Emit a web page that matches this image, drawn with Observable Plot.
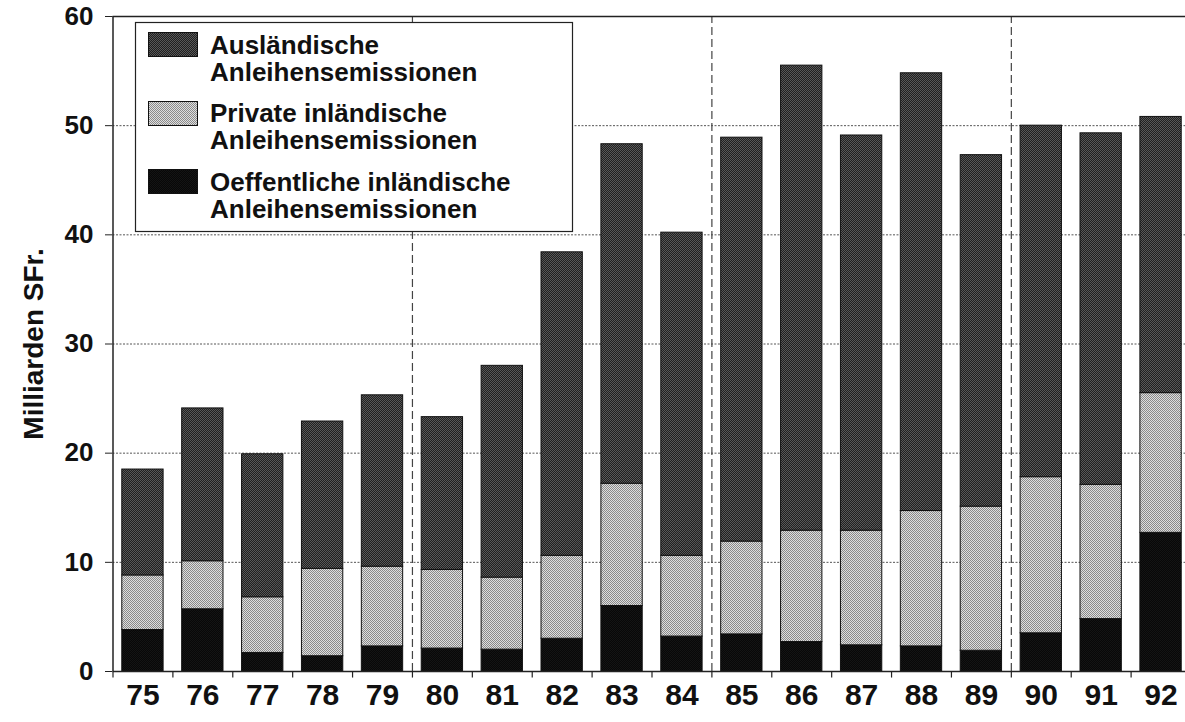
<!DOCTYPE html>
<html>
<head>
<meta charset="utf-8">
<script src="https://cdn.jsdelivr.net/npm/d3@7"></script>
<script src="https://cdn.jsdelivr.net/npm/@observablehq/plot@0.6"></script>
<style>
  html, body { margin: 0; padding: 0; background: #fff; }
  #chart { width: 1185px; height: 722px; overflow: hidden; }
  svg { font-family: "Liberation Sans", Arial, sans-serif; }
</style>
</head>
<body>
<div id="chart"></div>
<script>
// ---- data (Milliarden SFr.) ----
const years = [75, 76, 77, 78, 79, 80, 81, 82, 83, 84, 85, 86, 87, 88, 89, 90, 91, 92];
const oeffentlich = [3.8, 5.7, 1.7, 1.4, 2.3, 2.1, 2.0, 3.0, 6.0, 3.2, 3.4, 2.7, 2.4, 2.3, 1.9, 3.5, 4.8, 12.7];
const privat = [5.0, 4.4, 5.1, 8.0, 7.3, 7.2, 6.6, 7.6, 11.2, 7.4, 8.5, 10.2, 10.5, 12.4, 13.2, 14.3, 12.3, 12.8];
const auslaendisch = [9.7, 14.0, 13.1, 13.5, 15.7, 14.0, 19.4, 27.8, 31.1, 29.6, 37.0, 42.6, 36.2, 40.1, 32.2, 32.2, 32.2, 25.3];
const yTicks = [0, 10, 20, 30, 40, 50, 60];
const blockStarts = [80, 85, 90];
const yTitle = "Milliarden SFr.";
const legendLines = [
  ["Ausländische", "Anleihensemissionen"],
  ["Private inländische", "Anleihensemissionen"],
  ["Oeffentliche inländische", "Anleihensemissionen"]
];

// ---- build stacked rows ----
const seriesKeys = ["oeff", "priv", "ausl"];
const seriesVals = {oeff: oeffentlich, priv: privat, ausl: auslaendisch};
const rows = [];
years.forEach((yr, i) => {
  let base = 0;
  for (const s of seriesKeys) {
    const v = seriesVals[s][i];
    rows.push({year: yr, series: s, y1: base, y2: base + v});
    base += v;
  }
});
const fills = {oeff: "url(#pOeff)", priv: "url(#pPriv)", ausl: "url(#pAusl)"};
const half = 0.345;
const xMin = years[0] - 0.5, xMax = years[years.length - 1] + 0.5;
const bounds = years.map(d => d - 0.5).concat([xMax]);

const font = "Liberation Sans, Arial, sans-serif";

const barMarks = seriesKeys.map(s => Plot.rect(rows.filter(r => r.series === s), {
  x1: d => d.year - half, x2: d => d.year + half, y1: "y1", y2: "y2",
  fill: fills[s], stroke: "#111", strokeWidth: 1
}));

const plot = Plot.plot({
  width: 1185,
  height: 722,
  marginLeft: 112,
  marginRight: 0,
  marginTop: 16,
  marginBottom: 51,
  style: {fontFamily: font, background: "#fff"},
  x: {type: "linear", domain: [xMin, xMax], range: [112.5, 1190.5]},
  y: {domain: [0, 60], range: [671, 16]},
  marks: [
    // horizontal dotted grid
    Plot.ruleY(yTicks.filter(d => d > 0 && d < 60), {x1: xMin, x2: xMax + 1, stroke: "#555", strokeWidth: 1, strokeDasharray: "2,1.5"}),
    // dashed separators of 5-year blocks
    Plot.ruleX(blockStarts, {x: d => d - 0.5, y1: 0, y2: 60, stroke: "#444", strokeWidth: 1.2, strokeDasharray: "8,4"}),
    ...barMarks,
    // frame lines
    Plot.ruleY([60], {x1: xMin, x2: xMax + 1, stroke: "#222", strokeWidth: 1.5}),
    Plot.ruleY([0], {x1: xMin, x2: xMax + 1, stroke: "#222", strokeWidth: 1.5}),
    Plot.ruleX([xMin], {y1: 0, y2: 60, stroke: "#222", strokeWidth: 1.5}),
    // x ticks at category boundaries
    Plot.ruleX(bounds, {y1: 0, y2: -0.6, stroke: "#222", strokeWidth: 1.2}),
    // axes
    Plot.axisY(yTicks, {anchor: "left", tickSize: 7, tickPadding: 12, fontSize: 26, fontWeight: "bold", fill: "#111", stroke: "#222", label: null}),
    Plot.axisX(years, {anchor: "bottom", tickSize: 0, tickPadding: 12, fontSize: 30, fontWeight: "bold", fill: "#111", label: null, tickFormat: d => String(d)}),
    Plot.text([yTitle], {frameAnchor: "left", dx: -78, rotate: -90, textAnchor: "middle", lineAnchor: "middle", fontSize: 28, fontWeight: "bold", fill: "#111", text: d => d})
  ]
});

// patterns
const svg = d3.select(plot);
const defs = svg.insert("defs", ":first-child");
function pattern(id, bg, fg) {
  const p = defs.append("pattern").attr("id", id).attr("patternUnits", "userSpaceOnUse")
    .attr("width", 2).attr("height", 2);
  p.append("rect").attr("width", 2).attr("height", 2).attr("fill", bg);
  p.append("rect").attr("x", 0).attr("y", 0).attr("width", 1).attr("height", 1).attr("fill", fg);
  p.append("rect").attr("x", 1).attr("y", 1).attr("width", 1).attr("height", 1).attr("fill", fg);
}
pattern("pAusl", "#202020", "#585858");
pattern("pPriv", "#dedede", "#8a8a8a");
pattern("pOeff", "#080808", "#141414");

// legend (drawn inside the svg)
const lg = svg.append("g").attr("font-family", font).attr("font-weight", "bold").attr("font-size", 26)
  .attr("fill", "#111").attr("text-anchor", "start");
lg.append("rect").attr("x", 135.5).attr("y", 22.5).attr("width", 437).attr("height", 209)
  .attr("fill", "#fff").attr("stroke", "#222").attr("stroke-width", 1.2);
const legendFills = ["url(#pAusl)", "url(#pPriv)", "url(#pOeff)"];
const swatchTops = [32, 101, 169];
const baselines = [[54, 81], [122, 149], [191, 218]];
legendLines.forEach((lines, i) => {
  lg.append("rect").attr("x", 148.5).attr("y", swatchTops[i] + 0.5).attr("width", 49).attr("height", 24)
    .attr("fill", legendFills[i]).attr("stroke", "#111").attr("stroke-width", 1);
  lines.forEach((t, j) => {
    lg.append("text").attr("x", 210).attr("y", baselines[i][j]).attr("text-anchor", "start").text(t);
  });
});

document.getElementById("chart").appendChild(plot);
</script>
</body>
</html>
